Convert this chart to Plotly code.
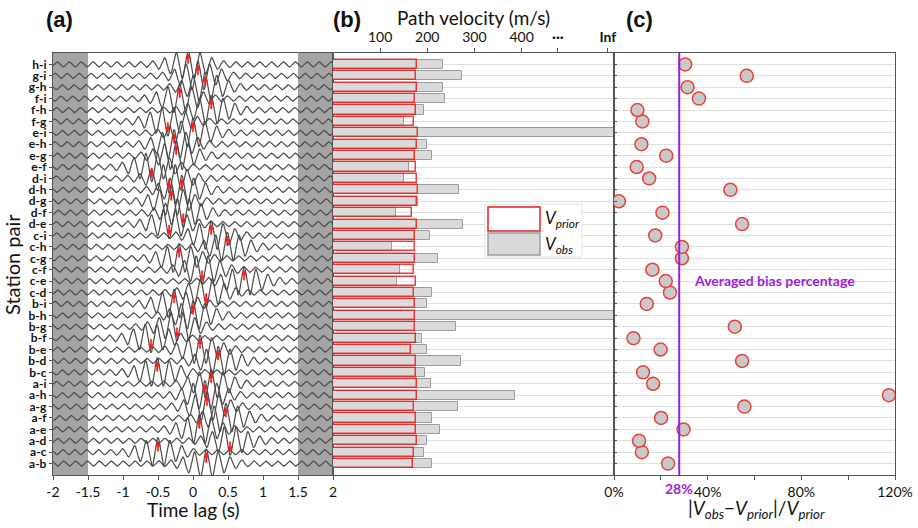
import numpy as np
import plotly.graph_objects as go

# ---------------------------------------------------------------- data
pairs = ["a-b", "a-c", "a-d", "a-e", "a-f", "a-g", "a-h", "a-i",
         "b-c", "b-d", "b-e", "b-f", "b-g", "b-h", "b-i",
         "c-d", "c-e", "c-f", "c-g", "c-h", "c-i",
         "d-e", "d-f", "d-g", "d-h", "d-i",
         "e-f", "e-g", "e-h", "e-i",
         "f-g", "f-h", "f-i",
         "g-h", "g-i",
         "h-i"]

INF = float("inf")

# prior and observed path velocities (m/s)
v_prior = [170, 172, 179, 175, 175, 171, 179, 178,
           175, 177, 166, 175, 173, 173, 174,
           171, 175, 171, 174, 174, 174,
           179, 168, 178, 181, 179,
           177, 174, 179, 180,
           172, 176, 174,
           178, 176,
           179]
v_obs = [209, 193, 199, 226, 211, 265, 386, 208,
         196, 271, 199, 189, 260, INF, 199,
         211, 136, 143, 222, 126, 205,
         276, 133, 181, 268, 151,
         161, 211, 199, INF,
         151, 194, 237,
         233, 274,
         233]

# |Vobs - Vprior| / Vprior (None where Vobs is infinite)
bias = [0.231, 0.119, 0.107, 0.297, 0.201, 0.557, 1.174, 0.167,
        0.124, 0.547, 0.199, 0.083, 0.516, None, 0.140,
        0.239, 0.221, 0.164, 0.290, 0.290, 0.176,
        0.547, 0.207, 0.021, 0.497, 0.150,
        0.097, 0.223, 0.117, None,
        0.121, 0.100, 0.363,
        0.314, 0.567,
        0.304]

# picked time lag (s) on each cross-correlation and the picked phase
pick_lag = [0.19, -0.50, 0.53, 0.09, 0.47, 0.20, 0.17, 0.26,
            -0.51, 0.36, 0.10, -0.60, -0.23, 0.00, -0.27,
            0.19, 0.73, 0.13, -0.20, 0.49, 0.26,
            -0.34, -0.14, -0.31, -0.16, -0.34,
            -0.59, -0.24, -0.27, 0.00,
            -0.36, 0.26, -0.19,
            0.17, 0.07,
            -0.07]
pick_dir = ["up", "up", "down", "up", "up", "up", "up", "up",
            "up", "up", "up", "down", "down", "up", "up",
            "down", "up", "down", "up", "up", "up",
            "down", "down", "up", "up", "down",
            "down", "up", "up", "up",
            "down", "up", "up",
            "up", "up",
            "up"]

lag_ticks = [-2, -1.5, -1, -0.5, 0, 0.5, 1, 1.5, 2]
lag_labels = ["-2", "-1.5", "-1", "-0.5", "0", "0.5", "1", "1.5", "2"]
vel_ticks = [100, 200, 300, 400]
bias_ticks = [0, 0.4, 0.8, 1.2]
bias_labels = ["0%", "40%", "80%", "120%"]
bias_minor = [0.2, 0.6, 1.0]

# ---------------------------------------------------------------- helpers
W, H = 918, 528
FONT = "Lato"
LINE = "#555555"
PURPLE = "#9a1ed8"
RED = "#ff1a1a"


def px(x):
    return x / W


def py(y):
    return 1 - y / H


rows = list(range(len(pairs)))
V_MAX = 596          # right end of the velocity axis
V_INF_TICK = 583     # where the "Inf" label sits
V_DOTS_TICK = 477

# band-limited cross-correlation wavelets around each pick
lags = np.linspace(-2, 2, 1201)
PERIOD = 0.17
wx, wy = [], []
for r, t0, d in zip(rows, pick_lag, pick_dir):
    pol = 1.0 if d == "up" else -1.0
    env = 0.22 + 1.05 * np.exp(-((lags - t0) / 0.33) ** 2)
    w = pol * env * np.cos(2 * np.pi * (lags - t0) / PERIOD)
    wx.extend(lags.tolist() + [None])
    wy.extend((r + w).tolist() + [None])

fig = go.Figure()

fig.add_trace(go.Scatter(x=wx, y=wy, mode="lines", xaxis="x", yaxis="y",
                         line=dict(color="#4a4a4a", width=1.2),
                         hoverinfo="skip", showlegend=False))

obs_plot = [V_MAX if v == INF else v for v in v_obs]
fig.add_trace(go.Bar(x=obs_plot, y=rows, orientation="h", width=0.8,
                     xaxis="x2", yaxis="y2",
                     marker=dict(color="#dadada",
                                 line=dict(color="#9c9c9c", width=1)),
                     showlegend=False))
fig.add_trace(go.Bar(x=v_prior, y=rows, orientation="h", width=0.8,
                     xaxis="x2", yaxis="y2",
                     marker=dict(color="rgba(0,0,0,0)",
                                 line=dict(color="rgba(236,28,28,0.85)", width=1.5)),
                     showlegend=False))

fig.add_trace(go.Scatter(x=bias, y=rows, mode="markers", xaxis="x3", yaxis="y3",
                         marker=dict(size=13, color="#c9c9c9",
                                     line=dict(color="#e8413c", width=1.5)),
                         showlegend=False))

valid = [b for b in bias if b is not None]
mean_bias = sum(valid) / len(valid)

# grey taper zones on the correlation panel
for x0, x1 in [(-2, -1.5), (1.5, 2)]:
    fig.add_shape(type="rect", xref="x", yref="y domain", x0=x0, x1=x1, y0=0, y1=1,
                  fillcolor="#a4a4a4", line_width=0, layer="below")

# pick arrows, sized in pixels and anchored on the picked lag
ARROW_UP = "M -0.7,1 L 0.7,1 L 0.7,6 L 2.4,6 L 0,11 L -2.4,6 L -0.7,6 Z"
ARROW_DOWN = "M -0.7,-1 L 0.7,-1 L 0.7,-6 L 2.4,-6 L 0,-11 L -2.4,-6 L -0.7,-6 Z"
for r, t0, d in zip(rows, pick_lag, pick_dir):
    fig.add_shape(type="path", xref="x", yref="y", xsizemode="pixel", ysizemode="pixel",
                  xanchor=t0, yanchor=r, path=ARROW_UP if d == "up" else ARROW_DOWN,
                  fillcolor=RED, line=dict(color=RED, width=0.5))

# averaged bias line
fig.add_shape(type="line", xref="x3", yref="y3 domain", x0=mean_bias, x1=mean_bias,
              y0=0, y1=1, line=dict(color=PURPLE, width=2))

# legend of panel (b)
fig.add_shape(type="rect", xref="paper", yref="paper", x0=px(485), x1=px(582),
              y0=py(257), y1=py(204), fillcolor="white", line=dict(color="#e2e2e2", width=1))
fig.add_shape(type="rect", xref="paper", yref="paper", x0=px(488), x1=px(540),
              y0=py(231), y1=py(207), fillcolor="white", line=dict(color="#ec1c1c", width=1.5))
fig.add_shape(type="rect", xref="paper", yref="paper", x0=px(488), x1=px(540),
              y0=py(255), y1=py(233), fillcolor="#dadada", line=dict(color="#9c9c9c", width=1.5))

ann = [
    dict(x=px(59), y=py(20), text="<b>(a)</b>", font=dict(family="Liberation Sans", size=22)),
    dict(x=px(347), y=py(20), text="<b>(b)</b>", font=dict(family="Liberation Sans", size=22)),
    dict(x=px(639), y=py(20), text="<b>(c)</b>", font=dict(family="Liberation Sans", size=22)),
    dict(x=px(473), y=py(18), text="Path velocity (m/s)", font=dict(size=19)),
    dict(x=px(193), y=py(509), text="Time lag (s)", font=dict(size=19)),
    dict(x=px(756), y=py(509),
         text="|<i>V<sub>obs</sub></i>\u2212<i>V<sub>prior</sub></i>|/<i>V<sub>prior</sub></i>",
         font=dict(size=19)),
    dict(x=px(12), y=py(265), text="Station pair", textangle=-90, font=dict(size=20)),
    dict(x=px(543), y=py(219), xanchor="left",
         text="<i>V<sub>prior</sub></i>", font=dict(size=17)),
    dict(x=px(543), y=py(245), xanchor="left",
         text="<i>V<sub>obs</sub></i>", font=dict(size=17)),
    dict(x=px(692), y=py(280), xanchor="left",
         text="<b>Averaged bias percentage</b>", font=dict(size=14, color=PURPLE)),
    dict(x=mean_bias, xref="x3", y=py(488), yref="paper",
         text="<b>%d%%</b>" % round(mean_bias * 100), font=dict(size=14, color=PURPLE)),
]
for a in ann:
    a.setdefault("xref", "paper")
    a.setdefault("yref", "paper")
    a.setdefault("xanchor", "center")
    a.setdefault("yanchor", "middle")
    a.setdefault("showarrow", False)
    a["font"].setdefault("family", FONT)
    a["font"].setdefault("color", "#111111")

ydom = [py(475), py(53)]
yrange = [-1, 36]
axis_common = dict(showline=True, mirror=True, linecolor=LINE, linewidth=1.3,
                   zeroline=False, tickcolor=LINE, automargin=False)

fig.update_layout(
    width=W, height=H, margin=dict(l=0, r=0, t=0, b=0),
    paper_bgcolor="white", plot_bgcolor="white",
    barmode="overlay", bargap=0,
    font=dict(family=FONT, color="#111111"),
    annotations=ann,
    xaxis=dict(domain=[px(53), px(333)], range=[-2, 2], anchor="y",
               tickvals=lag_ticks, ticktext=lag_labels, ticks="outside", ticklen=4,
               showgrid=False, tickfont=dict(size=14), **axis_common),
    yaxis=dict(domain=ydom, range=yrange, anchor="x",
               tickvals=rows, ticktext=pairs, ticks="outside", ticklen=3,
               showgrid=False, tickfont=dict(size=12, weight="bold"), **axis_common),
    xaxis2=dict(domain=[px(333), px(614)], range=[0, V_MAX], anchor="y2", side="top",
                tickvals=vel_ticks + [V_DOTS_TICK, V_INF_TICK],
                ticktext=[str(v) for v in vel_ticks] + ["<b>\u00b7\u00b7\u00b7</b>", "<b>Inf</b>"],
                ticks="outside", ticklen=4, showgrid=False, tickfont=dict(size=14),
                **axis_common),
    yaxis2=dict(domain=ydom, range=yrange, anchor="x2", showticklabels=False,
                tickvals=rows, showgrid=True, gridcolor="#e0e0e0", gridwidth=1,
                ticks="", **axis_common),
    xaxis3=dict(domain=[px(614), px(895)], range=[0, 1.2], anchor="y3",
                tickvals=bias_ticks, ticktext=bias_labels, ticks="outside", ticklen=4,
                minor=dict(tickvals=bias_minor, ticks="outside", ticklen=4, tickcolor=LINE,
                           showgrid=False),
                showgrid=False, tickfont=dict(size=14), **axis_common),
    yaxis3=dict(domain=ydom, range=yrange, anchor="x3", showticklabels=False,
                tickvals=rows, showgrid=True, gridcolor="#e0e0e0", gridwidth=1,
                ticks="inside", ticklen=3, **axis_common),
)

fig.write_html("out.html")
